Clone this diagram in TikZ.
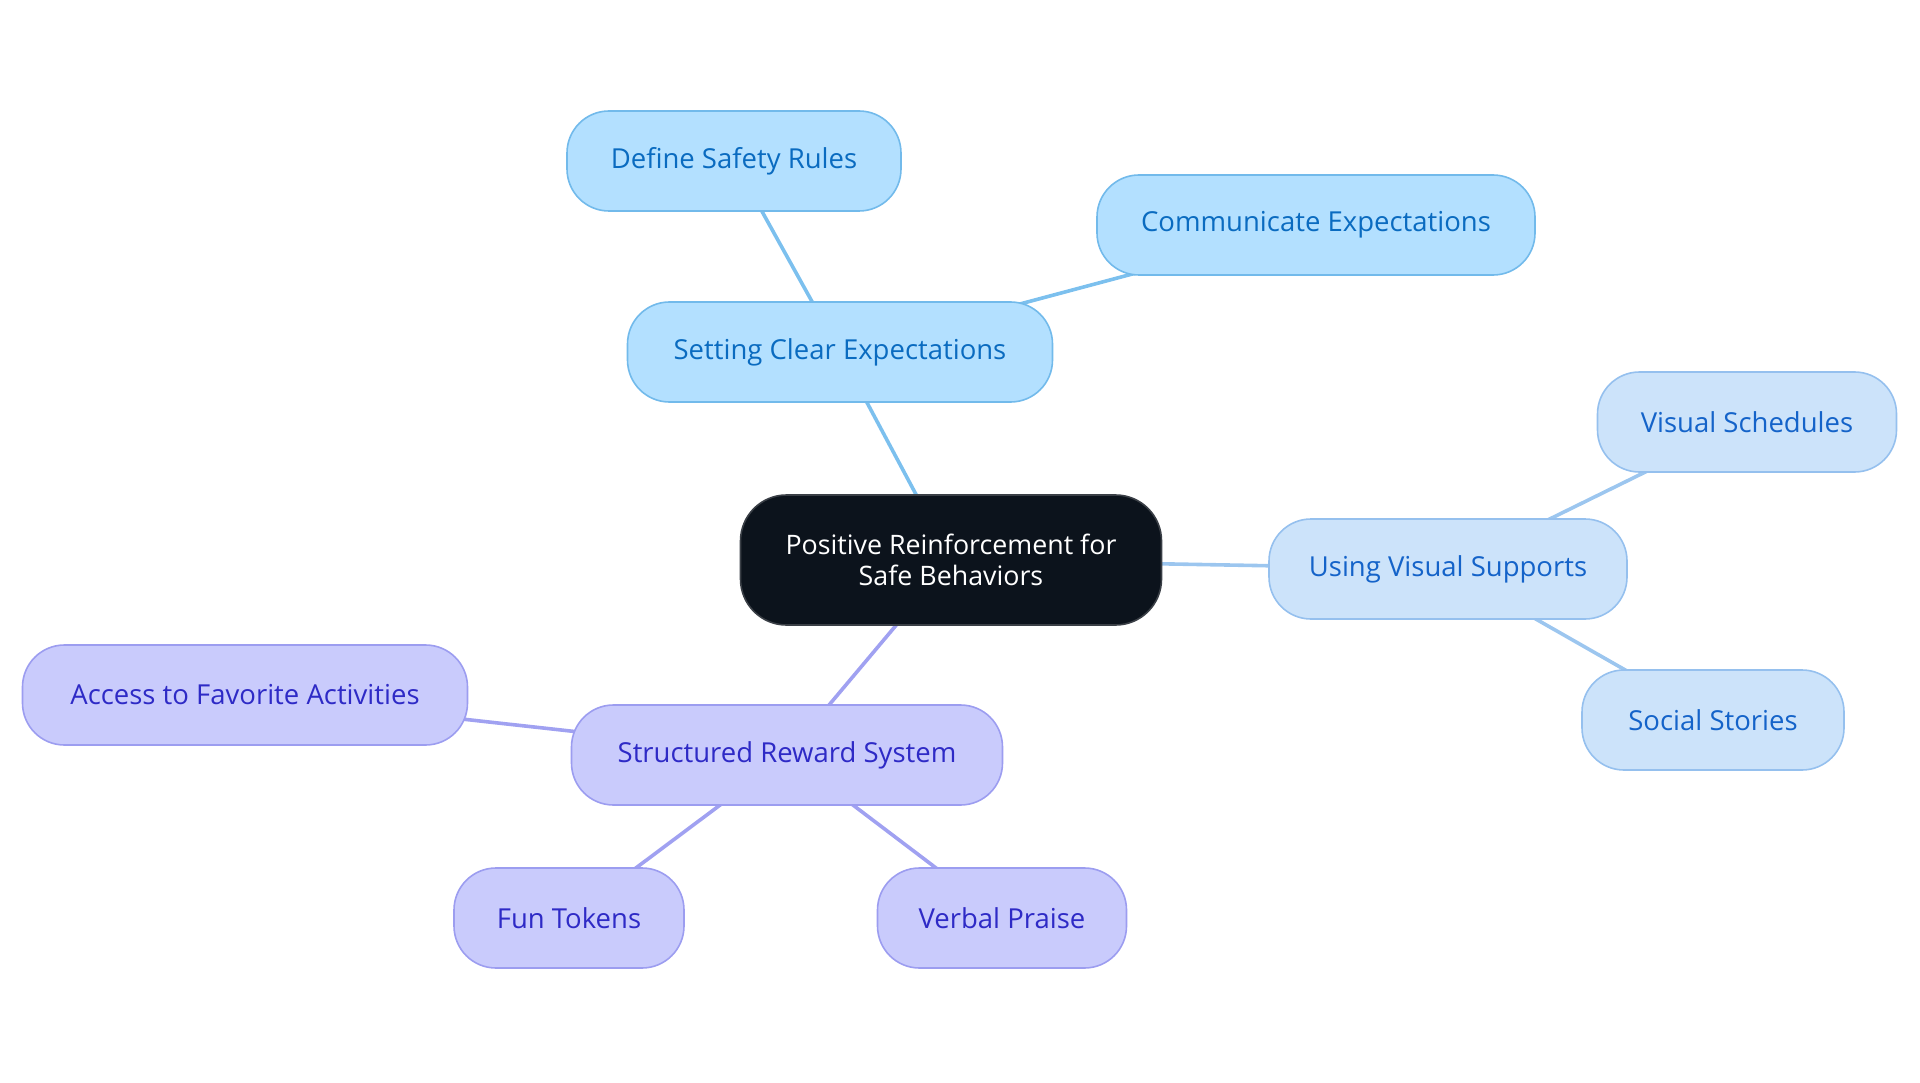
\documentclass[tikz,border=0pt]{standalone}
\usepackage{fontspec}
\setmainfont{Open Sans}
\usetikzlibrary{backgrounds}
\definecolor{bfill}{HTML}{B3E0FF}
\definecolor{bdraw}{HTML}{72BAEB}
\definecolor{btext}{HTML}{0A6BC0}
\definecolor{bline}{HTML}{7CC0EE}
\definecolor{vfill}{HTML}{CCE3FA}
\definecolor{vdraw}{HTML}{95C0EE}
\definecolor{vtext}{HTML}{1463C9}
\definecolor{vline}{HTML}{9CC6EF}
\definecolor{pfill}{HTML}{C9CBFC}
\definecolor{pdraw}{HTML}{9C9DF0}
\definecolor{ptext}{HTML}{2E2AC6}
\definecolor{pline}{HTML}{A0A1F1}
\definecolor{cfill}{HTML}{0C131C}
\definecolor{cdraw}{HTML}{3A3F46}
\tikzset{
  box/.style={rounded corners=42pt, line width=1.6pt, inner sep=0pt, align=center,
    font=\fontsize{27.5}{31}\selectfont, minimum height=100pt},
  bluebox/.style={box, fill=bfill, draw=bdraw, text=btext},
  visbox/.style={box, fill=vfill, draw=vdraw, text=vtext},
  purbox/.style={box, fill=pfill, draw=pdraw, text=ptext},
  centerbox/.style={box, rounded corners=46pt, fill=cfill, draw=cdraw, text=white, minimum height=130pt,
    font=\fontsize{26.8}{31}\selectfont},
  conn/.style={line width=3.6pt}
}
\begin{document}
\begin{tikzpicture}[x=1pt, y=-1pt]
\useasboundingbox (0,0) rectangle (1920,1083);
\node[centerbox, minimum width=421pt] (c) at (951,560) {Positive Reinforcement for\\Safe Behaviors};
\node[bluebox, minimum width=425pt] (sce) at (840,352) {Setting Clear Expectations};
\node[bluebox, minimum width=334pt] (dsr) at (734,161) {Define Safety Rules};
\node[bluebox, minimum width=438pt] (ce) at (1316,225) {Communicate Expectations};
\node[visbox, minimum width=358pt] (uvs) at (1448,569) {Using Visual Supports};
\node[visbox, minimum width=299pt] (vs) at (1747,422) {Visual Schedules};
\node[visbox, minimum width=262pt] (ss) at (1713,720) {Social Stories};
\node[purbox, minimum width=431pt] (srs) at (787,755) {Structured Reward System};
\node[purbox, minimum width=445pt] (afa) at (245,695) {Access to Favorite Activities};
\node[purbox, minimum width=230pt] (ft) at (569,918) {Fun Tokens};
\node[purbox, minimum width=249pt] (vp) at (1002,918) {Verbal Praise};
\begin{pgfonlayer}{background}
\draw[conn, bline] (c.center) -- (sce.center);
\draw[conn, bline] (sce.center) -- (dsr.center);
\draw[conn, bline] (sce.center) -- (ce.center);
\draw[conn, vline] (c.center) -- (uvs.center);
\draw[conn, vline] (uvs.center) -- (vs.center);
\draw[conn, vline] (uvs.center) -- (ss.center);
\draw[conn, pline] (c.center) -- (srs.center);
\draw[conn, pline] (srs.center) -- (afa.center);
\draw[conn, pline] (srs.center) -- (ft.center);
\draw[conn, pline] (srs.center) -- (vp.center);
\end{pgfonlayer}
\end{tikzpicture}
\end{document}
